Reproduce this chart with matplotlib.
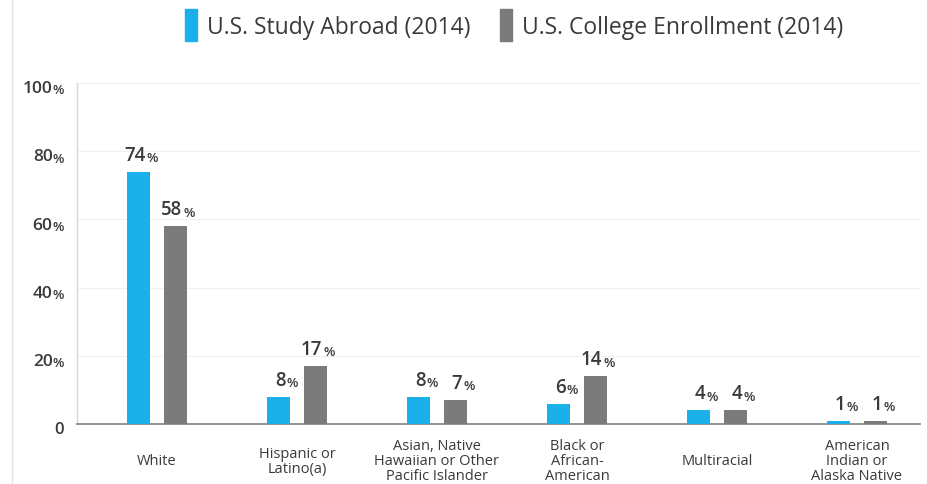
import matplotlib
matplotlib.use("Agg")
import matplotlib.pyplot as plt
from matplotlib.patches import Rectangle
from matplotlib.lines import Line2D
from matplotlib.transforms import blended_transform_factory

categories = ["White", "Hispanic or\nLatino(a)", "Asian, Native\nHawaiian or Other\nPacific Islander",
              "Black or\nAfrican-\nAmerican", "Multiracial", "American\nIndian or\nAlaska Native"]
study_abroad = [74, 8, 8, 6, 4, 1]
college_enrollment = [58, 17, 7, 14, 4, 1]
series_names = ["U.S. Study Abroad (2014)", "U.S. College Enrollment (2014)"]
y_ticks = [0, 20, 40, 60, 80, 100]

CYAN = "#1bb0ea"
GRAY = "#7b7b7b"
TEXT = "#3a3a3a"
FONT = "Open Sans"

plt.rcParams["font.family"] = [FONT, "DejaVu Sans"]

fig = plt.figure(figsize=(9.27, 4.85), dpi=100)
ax = fig.add_axes([77 / 927, 60 / 485, 843 / 927, 341 / 485])

x = list(range(len(categories)))
w = 0.165
off = 0.132
ax.bar([i - off for i in x], study_abroad, width=w, color=CYAN, zorder=3)
ax.bar([i + off for i in x], college_enrollment, width=w, color=GRAY, zorder=3)

ax.set_xlim(-0.571, 5.45)
ax.set_ylim(0, 100)

for s in ["top", "right"]:
    ax.spines[s].set_visible(False)
ax.spines["left"].set_color("#d6d6d6")
ax.spines["left"].set_linewidth(1.0)
ax.spines["bottom"].set_color("#8a8a8a")
ax.spines["bottom"].set_linewidth(1.3)

ax.set_yticks(y_ticks)
ax.yaxis.grid(True, color="#f0f0f0", linewidth=0.8, zorder=0)
ax.tick_params(axis="y", length=0, labelleft=False)
ax.tick_params(axis="x", length=0, labelbottom=False)

# y tick labels with a smaller percent sign
ytr = blended_transform_factory(ax.transAxes, ax.transData)
for t in y_ticks:
    if t == 0:
        ax.text(-0.016, t - 1.5, "0", transform=ytr, ha="right", va="center",
                fontsize=12, color=TEXT, fontweight="semibold")
    else:
        ax.text(-0.029, t - 1.5, str(t), transform=ytr, ha="right", va="center",
                fontsize=12.5, color=TEXT, fontweight="semibold")
        ax.text(-0.0295, t - 2.0, "%", transform=ytr, ha="left", va="center",
                fontsize=9.5, color=TEXT, fontweight="semibold")

# category labels
for i, c in enumerate(categories):
    ax.text(i, -10.8, c, ha="center", va="center", fontsize=10.5, color=TEXT,
            linespacing=1.0)

# value labels: number plus a smaller percent sign
def value_label(xc, v):
    ax.annotate(str(v), (xc, v), xytext=(5, 5), textcoords="offset points",
                ha="right", va="bottom", fontsize=13.5, color=TEXT,
                fontweight="semibold")
    ax.annotate("%", (xc, v), xytext=(5.5, 5.5), textcoords="offset points",
                ha="left", va="bottom", fontsize=9.5, color=TEXT,
                fontweight="semibold")

for i in x:
    value_label(i - off, study_abroad[i])
    value_label(i + off, college_enrollment[i])

# legend drawn along the top
for px, col, name in [(185, CYAN, series_names[0]), (500, GRAY, series_names[1])]:
    fig.patches.append(Rectangle((px / 927, 1 - 42 / 485), 12 / 927, 32 / 485,
                                 transform=fig.transFigure, color=col))
    fig.text((px + 22) / 927, 1 - 28 / 485, name, ha="left", va="center",
             fontsize=16.5, color=TEXT, fontweight="medium")

# faint frame line on the left
fig.lines.append(Line2D([12 / 927, 12 / 927], [0, 1], transform=fig.transFigure,
                        color="#e4e4e4", linewidth=1.0))

fig.savefig("out.png", dpi=100, facecolor="white")
